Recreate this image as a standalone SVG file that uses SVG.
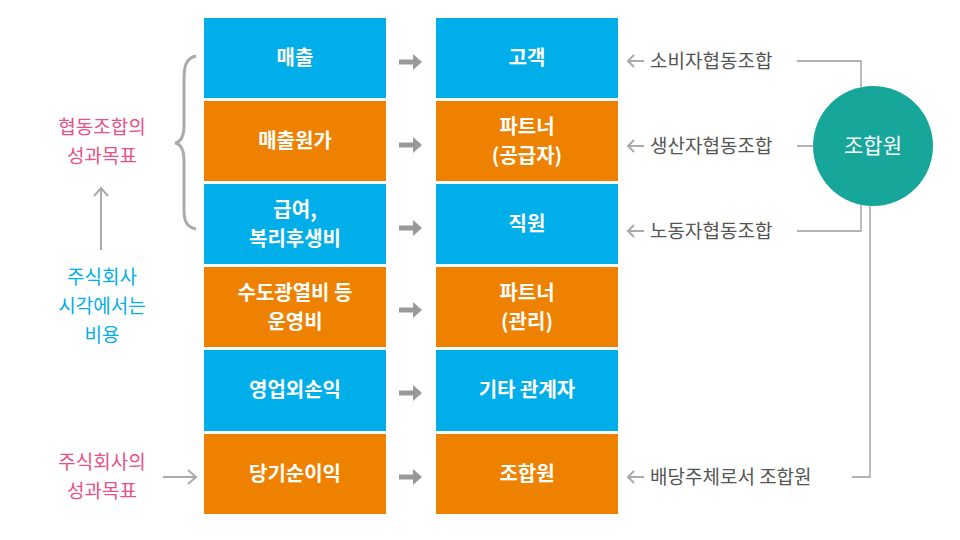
<svg xmlns="http://www.w3.org/2000/svg" width="960" height="540" viewBox="0 0 960 540">
<defs>
<style>
.b{fill:#00aeea}.o{fill:#ee8100}
.w{font-family:"Noto Sans CJK KR",sans-serif;font-size:20px;fill:#fff;font-weight:bold;text-anchor:middle}
.g{font-family:"Noto Sans CJK KR",sans-serif;font-size:19px;fill:#555}
.p{font-family:"Noto Sans CJK KR",sans-serif;font-size:19px;fill:#e8508a;text-anchor:middle}
.c{font-family:"Noto Sans CJK KR",sans-serif;font-size:19px;fill:#00aeea;text-anchor:middle}
.ln{fill:none;stroke:#999;stroke-width:1.3}
.ar{fill:none;stroke:#aaa;stroke-width:2}
</style>
<g id="blk"><path d="M0,-2.5H14V-8L23,0L14,8V2.5H0Z" fill="#999"/></g>
</defs>
<g id="left">
<g id="l1"><rect class="b" x="204" y="18" width="182" height="80"/><text class="w" x="295" y="65">매출</text></g>
<g id="l2"><rect class="o" x="204" y="101" width="182" height="80"/><text class="w" x="295" y="148">매출원가</text></g>
<g id="l3"><rect class="b" x="204" y="184" width="182" height="80"/><text class="w" x="295" y="217">급여,</text><text class="w" x="295" y="246">복리후생비</text></g>
<g id="l4"><rect class="o" x="204" y="267" width="182" height="80"/><text class="w" x="295" y="300">수도광열비 등</text><text class="w" x="295" y="329">운영비</text></g>
<g id="l5"><rect class="b" x="204" y="350" width="182" height="81"/><text class="w" x="295" y="397">영업외손익</text></g>
<g id="l6"><rect class="o" x="204" y="434" width="182" height="80"/><text class="w" x="295" y="481">당기순이익</text></g>
</g>
<g id="right">
<g id="r1"><rect class="b" x="436" y="18" width="182" height="80"/><text class="w" x="527" y="65">고객</text></g>
<g id="r2"><rect class="o" x="436" y="101" width="182" height="80"/><text class="w" x="527" y="134">파트너</text><text class="w" x="527" y="163">(공급자)</text></g>
<g id="r3"><rect class="b" x="436" y="184" width="182" height="80"/><text class="w" x="527" y="231">직원</text></g>
<g id="r4"><rect class="o" x="436" y="267" width="182" height="80"/><text class="w" x="527" y="300">파트너</text><text class="w" x="527" y="329">(관리)</text></g>
<g id="r5"><rect class="b" x="436" y="350" width="182" height="81"/><text class="w" x="527" y="397">기타 관계자</text></g>
<g id="r6"><rect class="o" x="436" y="434" width="182" height="80"/><text class="w" x="527" y="481">조합원</text></g>
</g>
<g id="circle"><circle cx="873" cy="146" r="60" fill="#17a69a"/><text class="w" x="873" y="153" style="font-weight:normal;font-size:21px">조합원</text></g>
<g id="labels">
<text class="g" x="650" y="68">소비자협동조합</text>
<text class="g" x="650" y="153">생산자협동조합</text>
<text class="g" x="650" y="238">노동자협동조합</text>
<text class="g" x="650" y="484">배당주체로서 조합원</text>
<text class="p" x="102" y="134">협동조합의</text>
<text class="p" x="102" y="163">성과목표</text>
<text class="c" x="102" y="284">주식회사</text>
<text class="c" x="102" y="313">시각에서는</text>
<text class="c" x="102" y="342">비용</text>
<text class="p" x="102" y="469">주식회사의</text>
<text class="p" x="102" y="498">성과목표</text>
</g>
<g id="connectors">
<use href="#blk" x="399" y="62"/><use href="#blk" x="399" y="145"/><use href="#blk" x="399" y="228"/>
<use href="#blk" x="399" y="310"/><use href="#blk" x="399" y="393"/><use href="#blk" x="399" y="477"/>
<path class="ar" d="M628,61H644M634,55L628,61L634,67"/>
<path class="ar" d="M628,146H644M634,140L628,146L634,152"/>
<path class="ar" d="M628,231H644M634,225L628,231L634,237"/>
<path class="ar" d="M628,477H644M634,471L628,477L634,483"/>
<path class="ln" d="M797,61H861V87M797,146H814M797,231H861V204M870,206V477H852"/>
<path class="ar" d="M101,250V188M94,196L101,188L108,196"/>
<path class="ar" d="M163,477H196M188,470L196,477L188,484"/>
<path d="M196,56C186,58 184,66 184,80V125C184,136 181,142 175,143C181,144 184,150 184,161V210C184,222 187,227 196,229" fill="none" stroke="#aaa" stroke-width="3"/>
</g>
</svg>
